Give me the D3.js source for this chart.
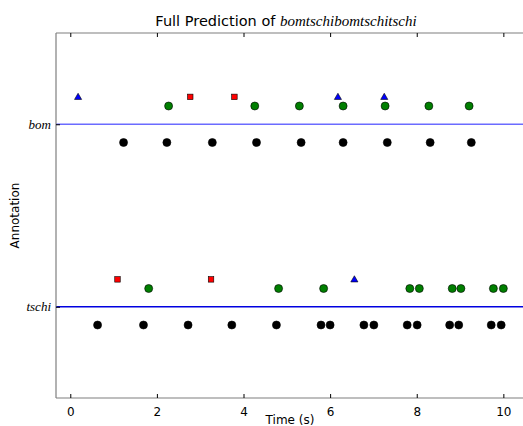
<!DOCTYPE html>
<html>
<head>
<meta charset="utf-8">
<script src="https://cdn.jsdelivr.net/npm/d3@7/dist/d3.min.js"></script>
<style>
  body { margin: 0; background: #fff; }
  svg { display: block; font-family: "DejaVu Sans", sans-serif; }
</style>
</head>
<body>
<script>
// Annotation classes on the y axis
const categories = ["tschi", "bom"];
const xTicks = [0, 2, 4, 6, 8, 10];

// Ground-truth onsets (black) drawn just below each class line
const truthBom = [1.23, 2.23, 3.28, 4.30, 5.33, 6.30, 7.32, 8.31, 9.26];
const truthTschi = [0.63, 1.69, 2.72, 3.73, 4.76, 5.79, 6.00, 6.78, 7.01, 7.78, 8.01, 8.76, 8.97, 9.72, 9.95];

// Correct predictions (green)
const hitBom = [2.27, 4.26, 5.29, 6.30, 7.27, 8.28, 9.21];
const hitTschi = [1.81, 4.81, 5.85, 7.84, 8.06, 8.82, 9.02, 9.77, 10.0];

// Wrong-class predictions (red squares)
const wrongBom = [2.77, 3.79];
const wrongTschi = [1.09, 3.25];

// Extra predictions (blue triangles)
const extraBom = [0.18, 6.18, 7.25];
const extraTschi = [6.56];

const W = 523, H = 426;
const margin = { left: 56, top: 33, right: -2, bottom: 28 };
const sans = '"DejaVu Sans", sans-serif';
const serif = '"Liberation Serif", serif';

const svg = d3.select("body").append("svg").attr("width", W).attr("height", H);

const x = d3.scaleLinear().domain([-0.33, 10.5]).range([margin.left, W - margin.right]);
const y = d3.scaleLinear().domain([-0.5, 1.5]).range([H - margin.bottom, margin.top]);
const catY = c => y(categories.indexOf(c));

// Offsets (in annotation units) of each marker row relative to its class line
const rowOffset = { truth: -0.1, hit: 0.1, wrong: 0.15, extra: 0.15 };

const plot = svg.append("g");

// Class lines
plot.append("line").attr("x1", x(-0.33)).attr("x2", x(10.5))
  .attr("y1", catY("bom")).attr("y2", catY("bom"))
  .attr("stroke", "#6b6bff").attr("stroke-width", 1.6);
plot.append("line").attr("x1", x(-0.33)).attr("x2", x(10.5))
  .attr("y1", catY("tschi")).attr("y2", catY("tschi"))
  .attr("stroke", "#0000e0").attr("stroke-width", 1.6);

function circles(data, cat, off, fill) {
  plot.append("g").selectAll("circle").data(data).join("circle")
    .attr("cx", d => x(d)).attr("cy", y(categories.indexOf(cat) + off))
    .attr("r", 4).attr("fill", fill).attr("stroke", "#000").attr("stroke-width", 0.6);
}
function squares(data, cat, off) {
  const s = 5.5;
  plot.append("g").selectAll("rect").data(data).join("rect")
    .attr("x", d => x(d) - s / 2).attr("y", y(categories.indexOf(cat) + off) - s / 2)
    .attr("width", s).attr("height", s)
    .attr("fill", "#ff0000").attr("stroke", "#000").attr("stroke-width", 0.6);
}
const tri = d3.symbol().type(d3.symbolTriangle).size(22);
function triangles(data, cat, off) {
  plot.append("g").selectAll("path").data(data).join("path")
    .attr("d", tri)
    .attr("transform", d => `translate(${x(d)},${y(categories.indexOf(cat) + off) + 0.5})`)
    .attr("fill", "#0000ff").attr("stroke", "#000").attr("stroke-width", 0.6);
}

circles(truthBom, "bom", rowOffset.truth, "#000");
circles(truthTschi, "tschi", rowOffset.truth, "#000");
circles(hitBom, "bom", rowOffset.hit, "#007f00");
circles(hitTschi, "tschi", rowOffset.hit, "#007f00");
squares(wrongBom, "bom", rowOffset.wrong);
squares(wrongTschi, "tschi", rowOffset.wrong);
triangles(extraBom, "bom", rowOffset.extra);
triangles(extraTschi, "tschi", rowOffset.extra);

// Frame
const x0 = margin.left, x1 = W - margin.right, y0 = margin.top, y1 = H - margin.bottom;
const frame = svg.append("g").attr("stroke", "#7f7f7f").attr("stroke-width", 1.2);
frame.append("line").attr("x1", x0).attr("x2", x0).attr("y1", y0).attr("y2", y1);
frame.append("line").attr("x1", x0).attr("x2", x1).attr("y1", y0).attr("y2", y0);
frame.append("line").attr("x1", x0).attr("x2", x1).attr("y1", y1).attr("y2", y1);
frame.append("line").attr("x1", x1).attr("x2", x1).attr("y1", y0).attr("y2", y1);

// X axis (ticks pointing inward, mirrored on top)
const xAxis = svg.append("g").attr("transform", `translate(0,${y1})`)
  .call(d3.axisBottom(x).tickValues(xTicks).tickSize(-4).tickPadding(9).tickFormat(d3.format("d")));
xAxis.select(".domain").remove();
xAxis.selectAll("line").attr("stroke", "#000");
xAxis.selectAll("text").style("font-size", "12px").attr("fill", "#000")
  .style("font-family", sans);
const xTop = svg.append("g").attr("transform", `translate(0,${y0})`)
  .call(d3.axisTop(x).tickValues(xTicks).tickSize(-4).tickFormat(""));
xTop.select(".domain").remove();
xTop.selectAll("line").attr("stroke", "#000");

// Y axis with class names
const yAxis = svg.append("g").attr("transform", `translate(${x0},0)`)
  .call(d3.axisLeft(y).tickValues([0, 1]).tickSize(-4).tickPadding(5)
    .tickFormat(d => categories[d]));
yAxis.select(".domain").remove();
yAxis.selectAll("line").attr("stroke", "#000");
yAxis.selectAll("text").style("font-size", "13px").attr("fill", "#000")
  .style("font-family", serif).style("font-style", "italic");

// Axis titles
svg.append("text").attr("x", 290).attr("y", 424)
  .attr("text-anchor", "middle").style("font-size", "12px").text("Time (s)");
svg.append("text").attr("transform", `translate(19,${(y0 + y1) / 2}) rotate(-90)`)
  .attr("text-anchor", "middle").style("font-size", "12px").text("Annotation");

// Title
const title = svg.append("text").attr("x", 286).attr("y", 26)
  .attr("text-anchor", "middle").style("font-size", "14.5px");
title.append("tspan").text("Full Prediction of ");
title.append("tspan").style("font-family", serif).style("font-style", "italic")
  .style("font-size", "15px").text("bomtschibomtschitschi");
</script>
</body>
</html>
